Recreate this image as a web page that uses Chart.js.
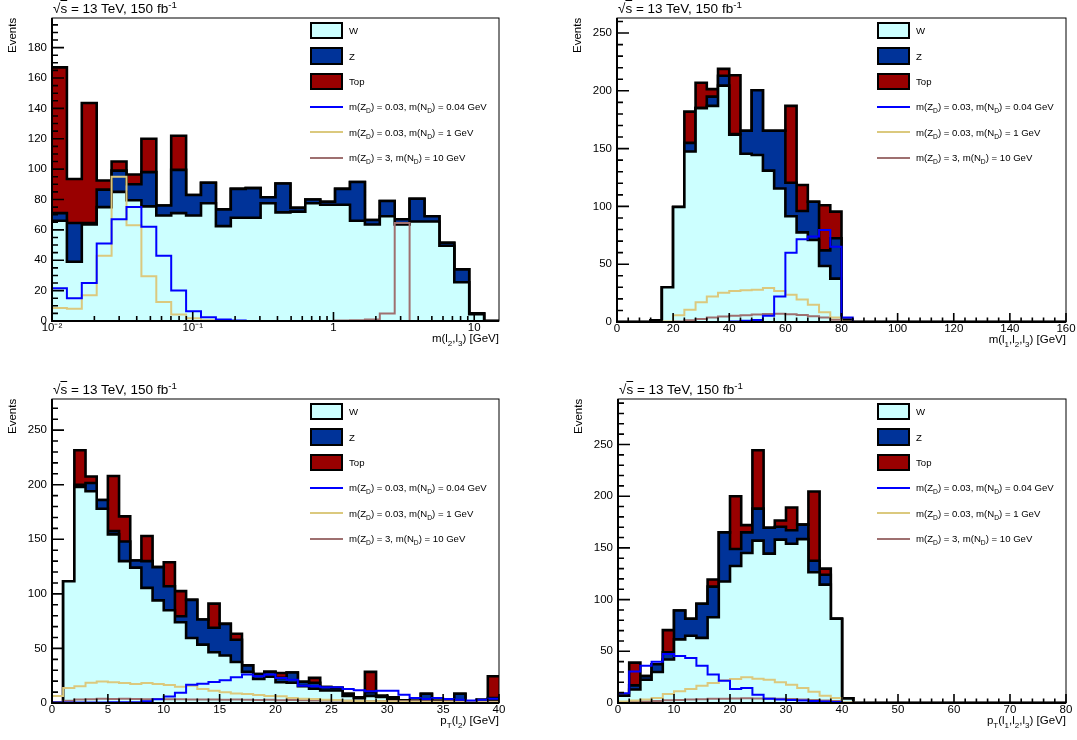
<!DOCTYPE html>
<html lang="en">
<head>
<meta charset="UTF-8" />
<title>Stacked backgrounds and signals</title>
<style>
  html, body { margin: 0; padding: 0; }
  body { width: 1077px; height: 740px; background: #fff; position: relative; overflow: hidden;
         font-family: "Liberation Sans", Arial, Helvetica, sans-serif; }
  canvas { position: absolute; }
  .txt { position: absolute; white-space: nowrap; line-height: 1; color: #000; }
  .title { font-size: 13.5px; }
  .ytitle { font-size: 11.5px; transform-origin: left top; transform: rotate(-90deg); }
  .xtitle { font-size: 11.5px; }
  .leg { font-size: 9.6px; }
  .sub { font-size: 70%; position: relative; top: 0.45em; }
  .sup { font-size: 72%; position: relative; top: -0.45em; }
  .box { position: absolute; box-sizing: border-box; border: 2px solid #000; }
  .line { position: absolute; height: 2px; }
</style>
</head>
<body>
<script src="https://cdn.jsdelivr.net/npm/chart.js"></script>
<script>
// --- bin contents ---

// m(l2,l3): 30 log bins, 0.01 .. 15 GeV
const m23W   = [66, 39, 63.5, 75, 85, 79.5, 75.5, 69.5, 71, 69.5, 77.5, 62.5, 68, 68, 77.5, 71.5, 72, 77.5, 76.5, 76.5, 66, 63.5, 69, 63.5, 65.5, 65.5, 49.5, 25.5, 4.5, 0];
const m23Z   = [5, 25.5, 1, 11.5, 14, 10.5, 22.5, 6.5, 28.5, 13.5, 13.5, 11, 19, 19.5, 4, 19, 2.5, 2.5, 2, 10.5, 25.5, 3, 10, 3.5, 15, 3.5, 2, 8.5, 0.5, 0];
const m23Top = [96, 29, 79, 6, 6, 6.5, 22, 0, 22.5, 0, 0, 0, 0, 0, 0, 0, 0, 0, 0, 0, 0, 0, 0, 0, 0, 0, 0, 0, 0, 0];
const m23Sig1 = [21.5, 15, 25, 51, 67, 75, 62, 43, 20, 6.5, 2.5, 1, 0.3, 0, 0, 0, 0, 0, 0, 0, 0, 0, 0, 0, 0, 0, 0, 0, 0, 0];
const m23Sig2 = [8.5, 8, 17, 43, 95, 63, 29.5, 12.5, 4.3, 1.8, 0.5, 0.2, 0, 0, 0, 0, 0, 0, 0, 0, 0, 0, 0, 0, 0, 0, 0, 0, 0, 0];
const m23Sig3 = [0, 0, 0, 0, 0, 0, 0, 0, 0, 0, 0, 0, 0, 0, 0, 0, 0, 0, 0, 0.3, 0.5, 1, 5, 64.5, 0, 0, 0, 0, 0, 0];
const m23TickValues = [0.01, 0.1, 1, 10];
const m23TickLabels = ['10\u207B\u00B2', '10\u207B\u00B9', '1', '10'];

// m(l1,l2,l3): 40 bins, 0 .. 160 GeV
const m123W   = [0, 0, 0, 1.5, 30, 99.5, 147.5, 185, 187, 204.5, 162, 145.5, 144.5, 131, 115.5, 91.5, 77.5, 71, 48.5, 37.5, 0.5, 0, 0, 0, 0, 0, 0, 0, 0, 0, 0, 0, 0, 0, 0, 0, 0, 0, 0, 0];
const m123Z   = [0, 0, 0, 0, 0, 0, 7.5, 0, 8, 8.5, 0.5, 20, 56, 34.5, 50, 29, 18.5, 33, 13.5, 35, 1.5, 0, 0, 0, 0, 0, 0, 0, 0, 0, 0, 0, 0, 0, 0, 0, 0, 0, 0, 0];
const m123Top = [0, 0, 0, 0, 0, 0, 27, 22, 6.5, 6, 51, 0, 0, 0, 0, 66.5, 22.5, 0, 39, 23, 0, 0, 0, 0, 0, 0, 0, 0, 0, 0, 0, 0, 0, 0, 0, 0, 0, 0, 0, 0];
const m123Sig1 = [0, 0, 0, 0, 0, 0, 0, 0, 0, 0, 0.5, 1, 1.8, 5.5, 22, 60, 71.5, 74, 79.5, 65, 3.8, 0, 0, 0, 0, 0, 0, 0, 0, 0, 0, 0, 0, 0, 0, 0, 0, 0, 0, 0];
const m123Sig2 = [0, 0, 0, 0, 0.5, 5.8, 10.7, 17, 22, 25.3, 26.8, 27.5, 28, 29.4, 26.8, 23.5, 19.5, 15, 8.5, 4, 0.3, 0, 0, 0, 0, 0, 0, 0, 0, 0, 0, 0, 0, 0, 0, 0, 0, 0, 0, 0];
const m123Sig3 = [0, 0, 0, 0, 0, 0.5, 1.5, 2.5, 3.8, 4.8, 5.5, 5.8, 6.4, 7, 7.2, 6.8, 6, 5, 3.8, 2, 0.3, 0, 0, 0, 0, 0, 0, 0, 0, 0, 0, 0, 0, 0, 0, 0, 0, 0, 0, 0];

// pT(l2): 40 bins, 0 .. 40 GeV
const pt2W   = [0, 111.5, 198, 194, 178, 154.5, 130, 124, 105.5, 94, 85, 74, 59.5, 53.5, 46.5, 43.5, 37.5, 28.5, 22, 24, 19, 18.5, 15.5, 13, 11.5, 11.5, 6.5, 4.5, 6.5, 5.5, 4, 2, 1.5, 2.5, 1.5, 1.5, 2, 1, 2.5, 2.5];
const pt2Z   = [0, 0, 2, 7.5, 8, 3, 18, 6.5, 24.5, 30.5, 22, 5.5, 35, 23, 22.5, 29, 20.5, 6, 4.5, 4.5, 4, 9.5, 4, 5.5, 3, 2.5, 2, 0.7, 3.5, 1.2, 1.2, 0.4, 0.6, 6, 0.6, 0.6, 6.5, 0, 0.5, 2];
const pt2Top = [0, 0, 31.5, 6, 0, 50.5, 23, 0, 23, 0, 22, 23, 0, 0, 22, 0, 5.5, 0, 0, 0, 4.5, 0, 0, 4.5, 0, 0, 0, 0, 18.5, 0, 0, 0, 0, 0, 0, 0, 0, 0, 0, 20];
const pt2Sig1 = [0.5, 0.5, 0.5, 0.5, 0.5, 0.6, 0.6, 0.8, 1.5, 3.5, 6, 9.5, 16.8, 17.7, 19.3, 20.8, 23.5, 26, 24.4, 26, 22.9, 21.4, 15.9, 15.3, 14.4, 14.4, 12.8, 11.6, 10.7, 11.3, 11.3, 7.6, 4.6, 3.7, 4.6, 3.7, 3, 2.4, 3, 4];
const pt2Sig2 = [6.5, 13.8, 15.3, 18.5, 19.7, 19, 18.3, 17.5, 18.3, 17.4, 16.5, 14.8, 15.9, 12.8, 11.3, 9.8, 8.6, 8.3, 7.3, 6.4, 6.1, 4.6, 4, 3.7, 3, 2.8, 2.1, 1.8, 1.6, 1.5, 1.4, 1.2, 1.2, 1, 1, 0.9, 0.8, 0.8, 0.7, 0.7];
const pt2Sig3 = [0.5, 2, 3.2, 3.5, 3.8, 3.6, 3.9, 3.7, 3.5, 3.6, 3.4, 3.5, 3.2, 3.3, 3.1, 3, 3.1, 2.9, 2.8, 2.9, 2.6, 2.7, 2.5, 2.3, 2.4, 2.2, 2, 2.1, 1.9, 1.8, 1.9, 1.7, 1.5, 1.6, 1.4, 1.5, 1.3, 1.2, 1.3, 1.1];

// pT(l1,l2,l3): 40 bins, 0 .. 80 GeV
const pt123W   = [7, 13, 22.5, 30, 42, 61.5, 65, 63, 83, 117.5, 132.5, 145, 157, 144.5, 158, 154, 158.5, 126.5, 114.5, 81.5, 4.5, 0, 0, 0, 0, 0, 0, 0, 0, 0, 0, 0, 0, 0, 0, 0, 0, 0, 0, 0];
const pt123Z   = [0, 4, 3.5, 7.5, 7, 28, 16.5, 33, 29.5, 47.5, 16.5, 20, 31, 25, 12.5, 13, 14, 11, 9.5, 0, 0, 0, 0, 0, 0, 0, 0, 0, 0, 0, 0, 0, 0, 0, 0, 0, 0, 0, 0, 0];
const pt123Top = [0, 22, 0, 0, 21.5, 0, 0, 0, 7, 0, 51, 7, 56.5, 0, 6, 22, 0, 67, 6, 0, 0, 0, 0, 0, 0, 0, 0, 0, 0, 0, 0, 0, 0, 0, 0, 0, 0, 0, 0, 0];
const pt123Sig1 = [9.5, 30.5, 36, 40, 47.5, 45.5, 43.5, 36, 27.5, 21.5, 13.5, 14.5, 8, 4, 3.5, 3, 2.5, 2, 1.5, 1, 0, 0, 0, 0, 0, 0, 0, 0, 0, 0, 0, 0, 0, 0, 0, 0, 0, 0, 0, 0];
const pt123Sig2 = [1.5, 2.5, 3.5, 4.8, 8.7, 11.3, 13.5, 16.8, 19.4, 22, 23.2, 24.8, 23.5, 22.6, 20, 17.7, 14.5, 10.8, 7.1, 4.8, 0.5, 0, 0, 0, 0, 0, 0, 0, 0, 0, 0, 0, 0, 0, 0, 0, 0, 0, 0, 0];
const pt123Sig3 = [0.5, 1, 1.5, 2, 2.6, 3, 3.4, 3.6, 4, 4.2, 4.4, 4.5, 4.3, 4.3, 4, 3.8, 3.4, 3, 2.5, 2, 0.4, 0, 0, 0, 0, 0, 0, 0, 0, 0, 0, 0, 0, 0, 0, 0, 0, 0, 0, 0];

const bkgNames = ['W', 'Z', 'Top'];
const signalNames = [
  'm(Z<span class="sub">D</span>) = 0.03, m(N<span class="sub">D</span>) = 0.04 GeV',
  'm(Z<span class="sub">D</span>) = 0.03, m(N<span class="sub">D</span>) = 1 GeV',
  'm(Z<span class="sub">D</span>) = 3, m(N<span class="sub">D</span>) = 10 GeV'
];
const bkgColors = ['#ccffff', '#003399', '#990000'];
const sigColors = ['#0000ff', '#dbc97e', '#9e7070'];

const titleHtml = '\u221A<span style="text-decoration:overline">s</span> = 13 TeV, 150 fb<span class="sup">-1</span>';

const panels = [
  { frame: { x: 52, y: 18, w: 447, h: 303 }, log: true, nBins: 30, xMin: 0.01, xMax: 15,
    yMax: 199.5, yStep: 20, yMinor: 5,
    tickValues: m23TickValues, tickLabels: m23TickLabels,
    bkg: [m23W, m23Z, m23Top], sig: [m23Sig1, m23Sig2, m23Sig3],
    xTitle: 'm(l<span class="sub">2</span>,l<span class="sub">3</span>) [GeV]' },
  { frame: { x: 617, y: 18, w: 449, h: 304 }, log: false, nBins: 40, xMin: 0, xMax: 160,
    xStep: 20, xMinor: 4, yMax: 263, yStep: 50, yMinor: 10,
    bkg: [m123W, m123Z, m123Top], sig: [m123Sig1, m123Sig2, m123Sig3],
    xTitle: 'm(l<span class="sub">1</span>,l<span class="sub">2</span>,l<span class="sub">3</span>) [GeV]' },
  { frame: { x: 52, y: 399, w: 447, h: 304 }, log: false, nBins: 40, xMin: 0, xMax: 40,
    xStep: 5, xMinor: 1, yMax: 278.5, yStep: 50, yMinor: 10,
    bkg: [pt2W, pt2Z, pt2Top], sig: [pt2Sig1, pt2Sig2, pt2Sig3],
    xTitle: 'p<span class="sub">T</span>(l<span class="sub">2</span>) [GeV]' },
  { frame: { x: 618, y: 399, w: 448, h: 304 }, log: false, nBins: 40, xMin: 0, xMax: 80,
    xStep: 10, xMinor: 2, yMax: 294, yStep: 50, yMinor: 10,
    bkg: [pt123W, pt123Z, pt123Top], sig: [pt123Sig1, pt123Sig2, pt123Sig3],
    xTitle: 'p<span class="sub">T</span>(l<span class="sub">1</span>,l<span class="sub">2</span>,l<span class="sub">3</span>) [GeV]' }
];

Chart.defaults.font.family = '"Liberation Sans", Arial, Helvetica, sans-serif';
Chart.defaults.color = '#000';

// ROOT-like frame with inward tick marks
const rootAxes = {
  id: 'rootAxes',
  afterDatasetsDraw(chart, args, o) {
    const { ctx, chartArea: a } = chart;
    const xs = chart.scales.x, ys = chart.scales.y;
    ctx.save();
    ctx.strokeStyle = '#000';
    ctx.lineWidth = 1.6;
    ctx.beginPath();
    const nY = Math.floor(ys.max / o.yMinor + 1e-6);
    for (let i = 0; i <= nY; i++) {
      const v = i * o.yMinor;
      const py = ys.getPixelForValue(v);
      const major = Math.abs(v / o.yStep - Math.round(v / o.yStep)) < 1e-6;
      ctx.moveTo(a.left, py);
      ctx.lineTo(a.left + (major ? 12 : 6), py);
    }
    if (o.log) {
      for (let k = -2; k <= 1; k++) {
        for (let m = 1; m <= 9; m++) {
          const v = m * Math.pow(10, k);
          if (v < xs.min * 0.999 || v > xs.max) continue;
          const px = xs.getPixelForValue(v);
          ctx.moveTo(px, a.bottom);
          ctx.lineTo(px, a.bottom - (m === 1 ? 9 : 5));
        }
      }
    } else {
      const nX = Math.round((xs.max - xs.min) / o.xMinor);
      for (let i = 0; i <= nX; i++) {
        const v = xs.min + i * o.xMinor;
        const px = xs.getPixelForValue(v);
        const major = Math.abs(v / o.xStep - Math.round(v / o.xStep)) < 1e-6;
        ctx.moveTo(px, a.bottom);
        ctx.lineTo(px, a.bottom - (major ? 9 : 4.5));
      }
    }
    ctx.stroke();
    ctx.lineWidth = 1;
    ctx.strokeRect(a.left, a.top, a.right - a.left, a.bottom - a.top);
    ctx.lineWidth = 2;
    ctx.beginPath();
    ctx.moveTo(a.left, a.top);
    ctx.lineTo(a.left, a.bottom);
    ctx.lineTo(a.right, a.bottom);
    ctx.stroke();
    ctx.restore();
  }
};

function addText(cls, html, css) {
  const d = document.createElement('div');
  d.className = 'txt ' + cls;
  d.innerHTML = html;
  Object.assign(d.style, css);
  document.body.appendChild(d);
  return d;
}

function buildPanel(p) {
  const padL = 52, padT = 18, padR = 10, padB = 30;
  const f = p.frame;
  const cv = document.createElement('canvas');
  cv.width = f.w + padL + padR;
  cv.height = f.h + padT + padB;
  cv.style.left = (f.x - padL) + 'px';
  cv.style.top = (f.y - padT) + 'px';
  cv.style.width = cv.width + 'px';
  cv.style.height = cv.height + 'px';
  document.body.appendChild(cv);

  // bin edges
  const edges = [];
  const l0 = Math.log10(p.xMin), l1 = Math.log10(p.xMax);
  for (let i = 0; i <= p.nBins; i++) {
    const t = i / p.nBins;
    edges.push(p.log ? Math.pow(10, l0 + t * (l1 - l0)) : p.xMin + t * (p.xMax - p.xMin));
  }
  const steps = vals => vals.map((v, i) => ({ x: edges[i], y: v }))
    .concat([{ x: edges[p.nBins], y: vals[vals.length - 1] }]);

  const datasets = [];
  p.bkg.forEach((vals, k) => datasets.push({
    label: bkgNames[k], data: steps(vals), stepped: true,
    stack: 'bkg', order: k + 1, fill: 'origin',
    backgroundColor: bkgColors[k], borderColor: '#000', borderWidth: 2.6,
    borderJoinStyle: 'miter', pointRadius: 0
  }));
  p.sig.forEach((vals, k) => datasets.push({
    label: 'signal ' + (k + 1), data: steps(vals), stepped: true,
    stack: 'sig' + k, order: 0, fill: false,
    borderColor: sigColors[k], borderWidth: 2, borderJoinStyle: 'miter', pointRadius: 0
  }));

  const xScale = {
    type: p.log ? 'logarithmic' : 'linear',
    min: p.xMin, max: p.xMax,
    grid: { display: false, drawTicks: false },
    border: { display: false },
    ticks: { padding: 0, maxRotation: 0, autoSkip: false, font: { size: 11.5 }, color: '#000' },
    afterFit: s => { s.height = padB; }
  };
  if (p.log) {
    xScale.afterBuildTicks = s => { s.ticks = p.tickValues.map(v => ({ value: v })); };
    xScale.ticks.callback = (v, i) => p.tickLabels[i];
  } else {
    xScale.ticks.stepSize = p.xStep;
  }

  new Chart(cv, {
    type: 'line',
    data: { datasets },
    options: {
      responsive: false, animation: false, devicePixelRatio: 1, events: [],
      layout: { padding: { left: 0, top: padT, right: padR, bottom: 0 }, autoPadding: false },
      plugins: {
        legend: { display: false }, tooltip: { enabled: false },
        rootAxes: { log: p.log, xStep: p.xStep, xMinor: p.xMinor, yStep: p.yStep, yMinor: p.yMinor }
      },
      scales: {
        x: xScale,
        y: {
          stacked: true, min: 0, max: p.yMax,
          grid: { display: false, drawTicks: false },
          border: { display: false },
          ticks: { stepSize: p.yStep, includeBounds: false, padding: 5, autoSkip: false,
                   font: { size: 11.5 }, color: '#000' },
          afterFit: s => { s.width = padL; }
        }
      }
    },
    plugins: [rootAxes]
  });

  // texts
  addText('title', titleHtml, { left: (f.x + 1) + 'px', top: (f.y - 16.4) + 'px' });
  addText('ytitle', 'Events', { left: (f.x - 45) + 'px', top: (f.y + 35) + 'px' });
  addText('xtitle', p.xTitle, { right: (1077 - f.x - f.w) + 'px', top: (f.y + f.h + 12.3) + 'px' });

  // legend
  const right = f.x + f.w;
  const bx = right - 189, tx = right - 150;
  const names = bkgNames.concat(signalNames);
  names.forEach((name, k) => {
    const cy = f.y + 12.7 + 25.4 * k;
    const el = document.createElement('div');
    if (k < 3) {
      el.className = 'box';
      Object.assign(el.style, { left: bx + 'px', top: (cy - 8.8) + 'px', width: '33px', height: '17.6px', background: bkgColors[k] });
    } else {
      el.className = 'line';
      Object.assign(el.style, { left: bx + 'px', top: (cy - 1) + 'px', width: '33px', background: sigColors[k - 3] });
    }
    document.body.appendChild(el);
    addText('leg', name, { left: tx + 'px', top: (cy - 4.6) + 'px' });
  });
}

panels.forEach(buildPanel);
</script>
</body>
</html>
